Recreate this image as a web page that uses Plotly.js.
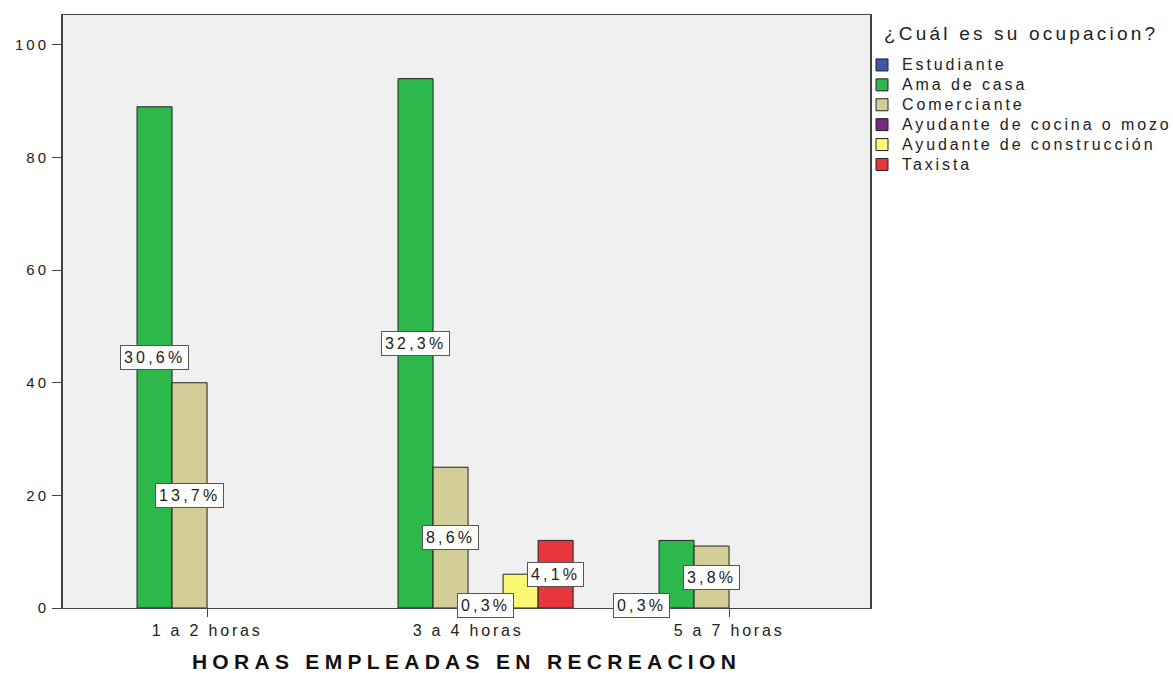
<!DOCTYPE html>
<html>
<head>
<meta charset="utf-8">
<script src="https://cdn.plot.ly/plotly-3.0.1.min.js"></script>
<style>
html,body{margin:0;padding:0;background:#fff;}
#chart{width:1173px;height:673px;}
.xtitle{letter-spacing:5.3px;}
.xtick text{letter-spacing:2.8px;}
.ytick text{letter-spacing:3.0px;}
.annotation-text{letter-spacing:3.2px;}
.legendtext{font-size:16px !important;letter-spacing:2.9px;}
</style>
</head>
<body>
<div id="chart"></div>
<script>
const categories = ['1 a 2 horas', '3 a 4 horas', '5 a 7 horas'];
const seriesNames = ['Estudiante', 'Ama de casa', 'Comerciante', 'Ayudante de cocina o mozo', 'Ayudante de construcción', 'Taxista'];
const estudiante   = [null, null, 1];
const amaDeCasa    = [89, 94, 12];
const comerciante  = [40, 25, 11];
const cocina       = [null, 1, null];
const construccion = [null, 6, null];
const taxista      = [null, 12, null];
const estudianteLbl   = ['', '', '0,3%'];
const amaDeCasaLbl    = ['30,6%', '32,3%', ''];
const comercianteLbl  = ['13,7%', '8,6%', '3,8%'];
const cocinaLbl       = ['', '0,3%', ''];
const construccionLbl = ['', '', ''];
const taxistaLbl      = ['', '4,1%', ''];
const yTicks = [0, 20, 40, 60, 80, 100];
const legendTitle = '¿Cuál es su ocupacion?';

const values = [estudiante, amaDeCasa, comerciante, cocina, construccion, taxista];
const labels = [estudianteLbl, amaDeCasaLbl, comercianteLbl, cocinaLbl, construccionLbl, taxistaLbl];
const colors = ['#3D57AA', '#2DB84B', '#D3CD98', '#782A80', '#FBF874', '#E8363C'];

const bargap = 0.195;
const slot = (1 - bargap) / seriesNames.length;
const FONT = 'Liberation Sans, Arial, sans-serif';

const traces = seriesNames.map((name, i) => ({
  type: 'bar',
  name: name,
  x: categories,
  y: values[i],
  marker: {color: colors[i], line: {color: '#222', width: 1}},
  hoverinfo: 'skip'
}));

const annotations = [];
labels.forEach((arr, i) => {
  arr.forEach((t, c) => {
    if (t && values[i][c] != null) {
      annotations.push({
        xref: 'x', yref: 'y',
        x: c + (i - 2.5) * slot,
        y: values[i][c] / 2,
        text: t,
        showarrow: false,
        bgcolor: '#ffffff',
        bordercolor: '#555',
        borderwidth: 1,
        borderpad: 3,
        font: {family: FONT, size: 16, color: '#222'}
      });
    }
  });
});
annotations.push({
  xref: 'paper', yref: 'paper',
  x: (882 - 63) / 807, y: 1 - (21 - 15) / 593,
  xanchor: 'left', yanchor: 'top',
  text: legendTitle,
  showarrow: false,
  font: {family: FONT, size: 19, color: '#222'}
});

const layout = {
  width: 1173, height: 673,
  margin: {l: 63, r: 303, t: 15, b: 65, autoexpand: false},
  paper_bgcolor: '#ffffff',
  plot_bgcolor: '#f0f0f0',
  barmode: 'group',
  bargap: bargap,
  bargroupgap: 0,
  showlegend: true,
  font: {family: FONT, color: '#222'},
  xaxis: {
    type: 'category',
    range: [-0.552, 2.54],
    automargin: false,
    showgrid: false, zeroline: false,
    showline: true, linecolor: '#444', linewidth: 1, mirror: true,
    ticks: 'outside', ticklen: 8, tickcolor: '#444',
    tickfont: {size: 16, color: '#222'},
    title: {text: 'HORAS EMPLEADAS EN RECREACION', font: {size: 21, color: '#111', weight: 'bold'}, standoff: 16}
  },
  yaxis: {
    range: [0, 105.3],
    automargin: false,
    tickvals: yTicks,
    showgrid: false, zeroline: false,
    showline: true, linecolor: '#444', linewidth: 2, mirror: true,
    ticks: 'outside', ticklen: 9, tickcolor: '#444',
    tickfont: {size: 15, color: '#222'}
  },
  legend: {
    xref: 'container', yref: 'container',
    x: 862 / 1173, y: 1 - 50 / 673,
    xanchor: 'left', yanchor: 'top',
    bgcolor: 'rgba(0,0,0,0)',
    borderwidth: 0,
    tracegroupgap: 0,
    itemwidth: 30,
    font: {size: 13, color: '#222'}
  },
  annotations: annotations
};

Plotly.newPlot('chart', traces, layout, {displayModeBar: false, staticPlot: true});
</script>
</body>
</html>
